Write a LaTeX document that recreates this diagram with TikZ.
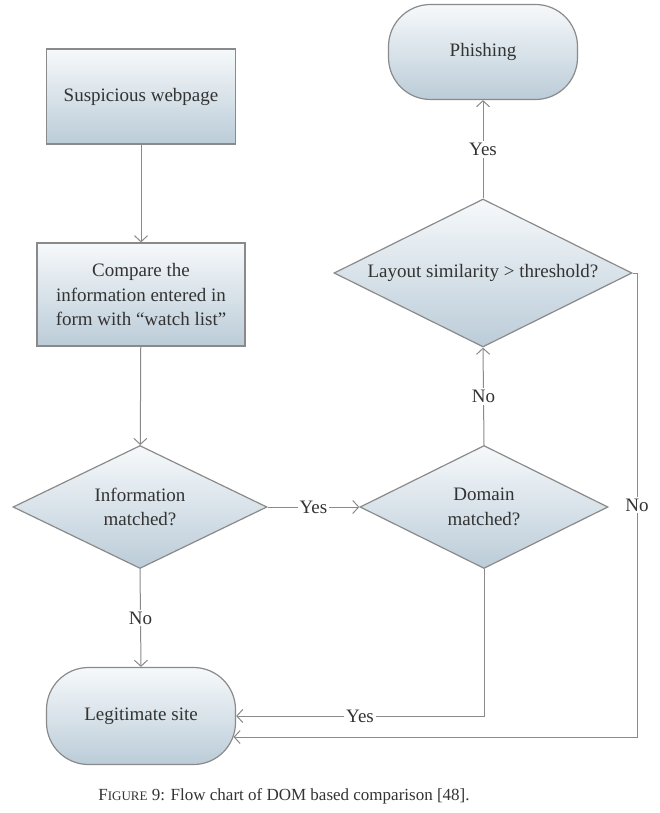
\documentclass[tikz,border=0pt]{standalone}
\usepackage{fontspec}
\setmainfont{Liberation Serif}
\usetikzlibrary{shapes.geometric,arrows.meta,calc}
\definecolor{boxtop}{HTML}{F6F9FB}
\definecolor{boxbot}{HTML}{BBCCD8}
\definecolor{edgegray}{HTML}{8A8A8A}
\definecolor{txt}{HTML}{333333}
\begin{document}
\begin{tikzpicture}[x=1pt,y=-1pt,
  every node/.style={text=txt,font=\fontsize{19}{24.5}\selectfont},
  box/.style={draw=edgegray,line width=1.2pt,top color=boxtop,bottom color=boxbot,align=center,inner sep=0pt},
  rbox/.style={box,rectangle,minimum width=189pt,minimum height=95pt},
  term/.style={box,rectangle,rounded corners=42pt,minimum width=189pt,minimum height=95pt},
  dec/.style={box,diamond,aspect=2},
  conn/.style={draw=edgegray,line width=1pt,-{Straight Barb[length=6pt,width=13pt]}},
  lab/.style={fill=white,inner sep=2pt}]
\useasboundingbox (0,0) rectangle (660,813);
\node[rbox] (s) at (141,96.5) {Suspicious webpage};
\node[rbox,minimum width=208pt,minimum height=103pt] (c) at (141,294.5) {Compare the\\information entered in\\form with “watch list”};
\node[dec,minimum width=254pt,minimum height=123pt] (info) at (140,507) {Information\\matched?};
\node[dec,minimum width=248pt,minimum height=123pt] (dom) at (484,507) {Domain\\matched?};
\node[dec,minimum width=298pt,minimum height=148pt] (lay) at (483,273) {Layout similarity > threshold?};
\node[term] (ph) at (483,52) {Phishing};
\node[term,minimum height=97pt] (legit) at (141,716) {Legitimate site};
\coordinate (nc) at (637,273);
\coordinate (lend) at (233.5,737);

\draw[conn] (s) -- (c);
\draw[conn] (c) -- (info);
\draw[conn] (info.east) -- node[lab] {Yes} (dom.west);
\draw[conn] (info.south) -- node[lab] {No} (legit.north);
\draw[conn] (dom.north) -- node[lab] {No} (lay.south);
\draw[conn] (lay.north) -- node[lab] {Yes} (ph.south);
\draw[conn] (dom.south) |- node[lab,pos=0.75] {Yes} (legit.east);
\draw[conn] (lay.east) -- (nc) -- node[lab,pos=0.5] {No} (nc |- lend) -- (lend);

\node[anchor=base,font=\fontsize{17}{20}\selectfont] (cap) at (284,800) {F{\fontsize{13}{16}\selectfont IGURE} 9: Flow chart of DOM based comparison [48].};
\end{tikzpicture}
\end{document}
